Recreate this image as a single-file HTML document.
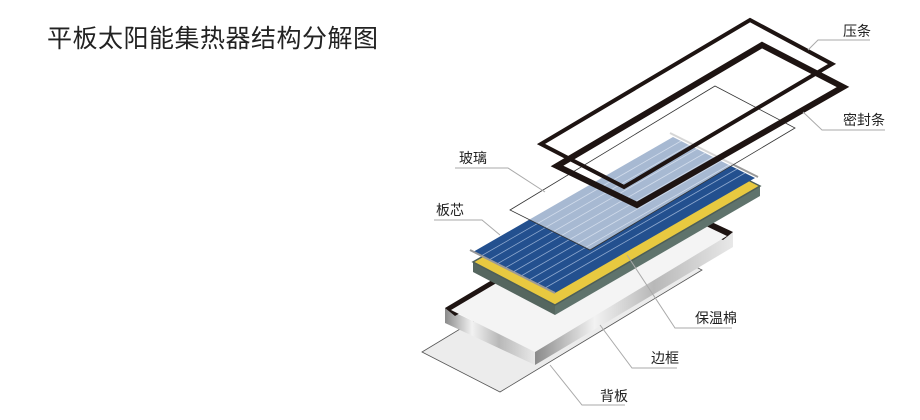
<!DOCTYPE html>
<html><head><meta charset="utf-8"><style>
html,body{margin:0;padding:0;background:#fff;}
svg{display:block;}
text{font-family:"Liberation Sans","Noto Sans CJK SC",sans-serif;fill:#222;}
</style></head><body>
<svg width="920" height="420" viewBox="0 0 920 420" xmlns="http://www.w3.org/2000/svg">
<defs>
<linearGradient id="met" x1="0" y1="0" x2="1" y2="0">
<stop offset="0" stop-color="#8a8a8a"/><stop offset="0.3" stop-color="#f2f2f2"/><stop offset="0.6" stop-color="#b8b8b8"/><stop offset="1" stop-color="#e8e8e8"/>
</linearGradient>
</defs>
<text x="47" y="47" font-size="25" letter-spacing="0.5">平板太阳能集热器结构分解图</text>

<!-- back plate -->
<polygon points="422,352 500,392 702,270 624,230" fill="#ececec" stroke="#555" stroke-width="0.8"/>

<!-- frame -->
<polygon points="445,308 445,323 535,365 535,350" fill="url(#met)"/>
<polygon points="535,350 535,365 733,247 733,232" fill="url(#met)"/>
<polygon points="445,308 643,190 643,205 455,316" fill="#1e1412"/>
<polygon points="643,190 733,232 723,240 643,205" fill="#1e1412"/>
<polygon points="451,310 643,196 727,236 535,352" fill="#f4f4f4"/>

<!-- insulation box -->
<polygon points="473,262 473,272 555,315 555,305" fill="#55665f"/>
<polygon points="555,305 555,315 760,196 760,186" fill="#5f736c"/>
<polygon points="473,262 555,305 760,186 678,145" fill="#e8c940" stroke="#4d5e58" stroke-width="1.5"/>

<!-- absorber -->
<polygon points="473,252 555,293 755,178 673,137" fill="#23508f"/>
<g stroke="#8fa9cf" stroke-width="0.8">
<line x1="481" y1="256" x2="681" y2="141"/>
<line x1="489" y1="260" x2="689" y2="145"/>
<line x1="497" y1="264" x2="697" y2="149"/>
<line x1="505" y1="268" x2="705" y2="153"/>
<line x1="513" y1="272" x2="713" y2="157"/>
<line x1="521" y1="276" x2="721" y2="161"/>
<line x1="529" y1="280" x2="729" y2="165"/>
<line x1="537" y1="284" x2="737" y2="169"/>
<line x1="545" y1="288" x2="745" y2="173"/>
</g>
<line x1="470" y1="250" x2="555" y2="293" stroke="#999" stroke-width="2"/>
<line x1="670" y1="133" x2="758" y2="177" stroke="#999" stroke-width="2"/>

<!-- glass -->
<polygon points="715,86 795,128 590,250 510,210" fill="#ffffff" fill-opacity="0.6" stroke="#333" stroke-width="0.8"/>

<!-- 压条 -->
<polygon points="750,20 832,64 624,187 541,144" fill="none" stroke="#1e1412" stroke-width="4" stroke-linejoin="miter"/>
<!-- 密封条 -->
<polygon points="762,45 843,87 637,205 557,166" fill="none" stroke="#1e1412" stroke-width="6" stroke-linejoin="miter"/>

<!-- leader lines -->
<g fill="none" stroke="#aaa" stroke-width="1">
<polyline points="808,50 818,40 870,40"/>
<polyline points="803,112 822,130 885,130"/>
<polyline points="545,192 508,168 455,168"/>
<polyline points="500,235 482,220 434,220"/>
<polyline points="627,255 675,328 732,328"/>
<polyline points="600,325 632,368 677,368"/>
<polyline points="550,365 582,405 625,405"/>
</g>
<g font-size="14">
<text x="843" y="36">压条</text>
<text x="843" y="125">密封条</text>
<text x="459" y="163">玻璃</text>
<text x="436" y="215">板芯</text>
<text x="695" y="323">保温棉</text>
<text x="651" y="363">边框</text>
<text x="600" y="401">背板</text>
</g>
</svg>
</body></html>
